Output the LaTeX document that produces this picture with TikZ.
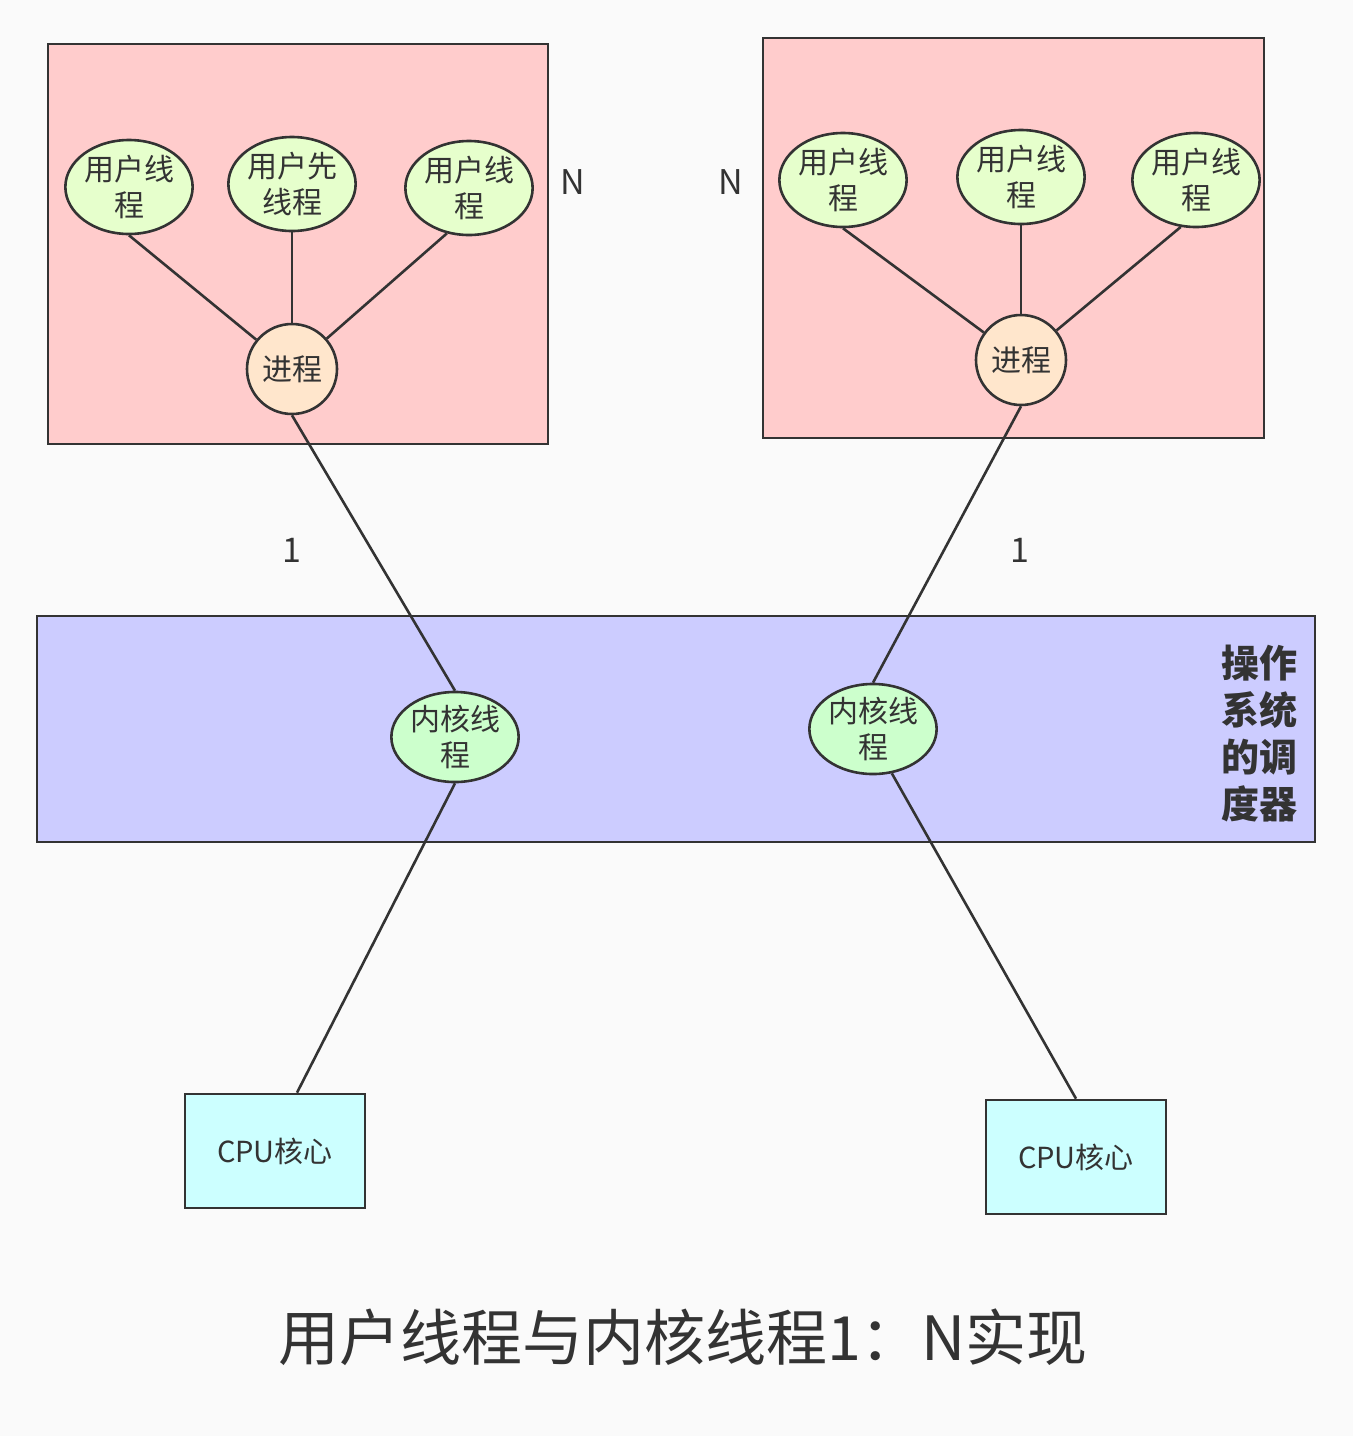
\documentclass[tikz,border=0pt]{standalone}
\usepackage{fontspec}
\setmainfont{Noto Sans CJK SC}
\usepackage{tikz}
\usetikzlibrary{calc,positioning,shapes.geometric}
\definecolor{ink}{HTML}{333333}
\definecolor{bg}{HTML}{FAFAFA}
\definecolor{procbox}{HTML}{FFCCCC}
\definecolor{uthr}{HTML}{E6FFCC}
\definecolor{proc}{HTML}{FFE6CC}
\definecolor{sched}{HTML}{CCCCFF}
\definecolor{kthr}{HTML}{CCFFCC}
\definecolor{core}{HTML}{CCFFFF}
\tikzstyle{area} = [
	draw = ink,
	line width = 1.3pt
	]
\tikzstyle{uth} = [
	ellipse,
	fill = uthr,
	draw = ink,
	line width = 1.3pt,
	minimum width = 63pt,
	minimum height = 47pt,
	inner sep = 0pt,
	align = center,
	font = \fontsize{15}{18}\selectfont
	]
\tikzstyle{kth} = [
	uth,
	fill = kthr,
	minimum width = 60pt,
	minimum height = 45pt
	]
\tikzstyle{pr} = [
	circle,
	fill = proc,
	draw = ink,
	line width = 1.3pt,
	minimum size = 45pt,
	inner sep = 0pt,
	font = \fontsize{15}{18}\selectfont
	]
\tikzstyle{cpu} = [
	rectangle,
	fill = core,
	draw = ink,
	line width = 1.3pt,
	minimum width = 90pt,
	minimum height = 57pt,
	font = \fontsize{14.5}{17}\selectfont
	]
\tikzstyle{link} = [
	draw = ink,
	line width = 1.3pt
	]
\tikzstyle{lbl} = [
	font = \fontsize{17}{20}\selectfont
	]

\begin{document}
\begin{tikzpicture}[x=0.5pt,y=-0.5pt,text=ink]
		\fill[bg] (0,0) rectangle (1353,1436);
		\useasboundingbox (0,0) rectangle (1353,1436);
		\filldraw[area,fill=procbox] (48,44) rectangle (548,444);
		\filldraw[area,fill=procbox] (763,38) rectangle (1264,438);
		\filldraw[area,fill=sched] (37,616) rectangle (1315,842);
		\node[uth] (ua) at (129,187) {用户线\\程};
		\node[uth] (ub) at (292,184) {用户先\\线程};
		\node[uth] (uc) at (469,188) {用户线\\程};
		\node[pr] (pa) at (292,369) {进程};
		\node[uth] (ud) at (843,180) {用户线\\程};
		\node[uth] (ue) at (1021,177) {用户线\\程};
		\node[uth] (uf) at (1196,180) {用户线\\程};
		\node[pr] (pb) at (1021,360) {进程};
		\node[lbl] (na) at (573,182) {N};
		\node[lbl] (nb) at (731,182) {N};
		\node[lbl] (oa) at (292,550) {1};
		\node[lbl] (ob) at (1020,550) {1};
		\node[kth] (ka) at (455,737) {内核线\\程};
		\node[kth] (kb) at (873,729) {内核线\\程};
		\node[anchor=east,inner sep=0pt,align=center,font=\fontsize{19}{23.5}\selectfont\bfseries] (os) at (1298,734) {操作\\系统\\的调\\度器};
		\node[cpu] (ca) at (275,1151) {CPU核心};
		\node[cpu] (cb) at (1076,1157) {CPU核心};
		\node[font=\fontsize{30.5}{35}\selectfont] (title) at (683,1337) {用户线程与内核线程1：N实现};
		\draw[link] (ua.south) -- (pa);
		\draw[link] (ub.south) -- (pa);
		\draw[link] (uc.244) -- (pa);
		\draw[link] (ud.south) -- (pb);
		\draw[link] (ue.south) -- (pb);
		\draw[link] (uf.252) -- (pb);
		\draw[link] (pa.south) -- (ka.north);
		\draw[link] (pb.south) -- (kb.north);
		\draw[link] (ka.south) -- ([xshift=11pt]ca.north);
		\draw[link] (kb.293) -- (cb.north);
	\end{tikzpicture}
\end{document}
